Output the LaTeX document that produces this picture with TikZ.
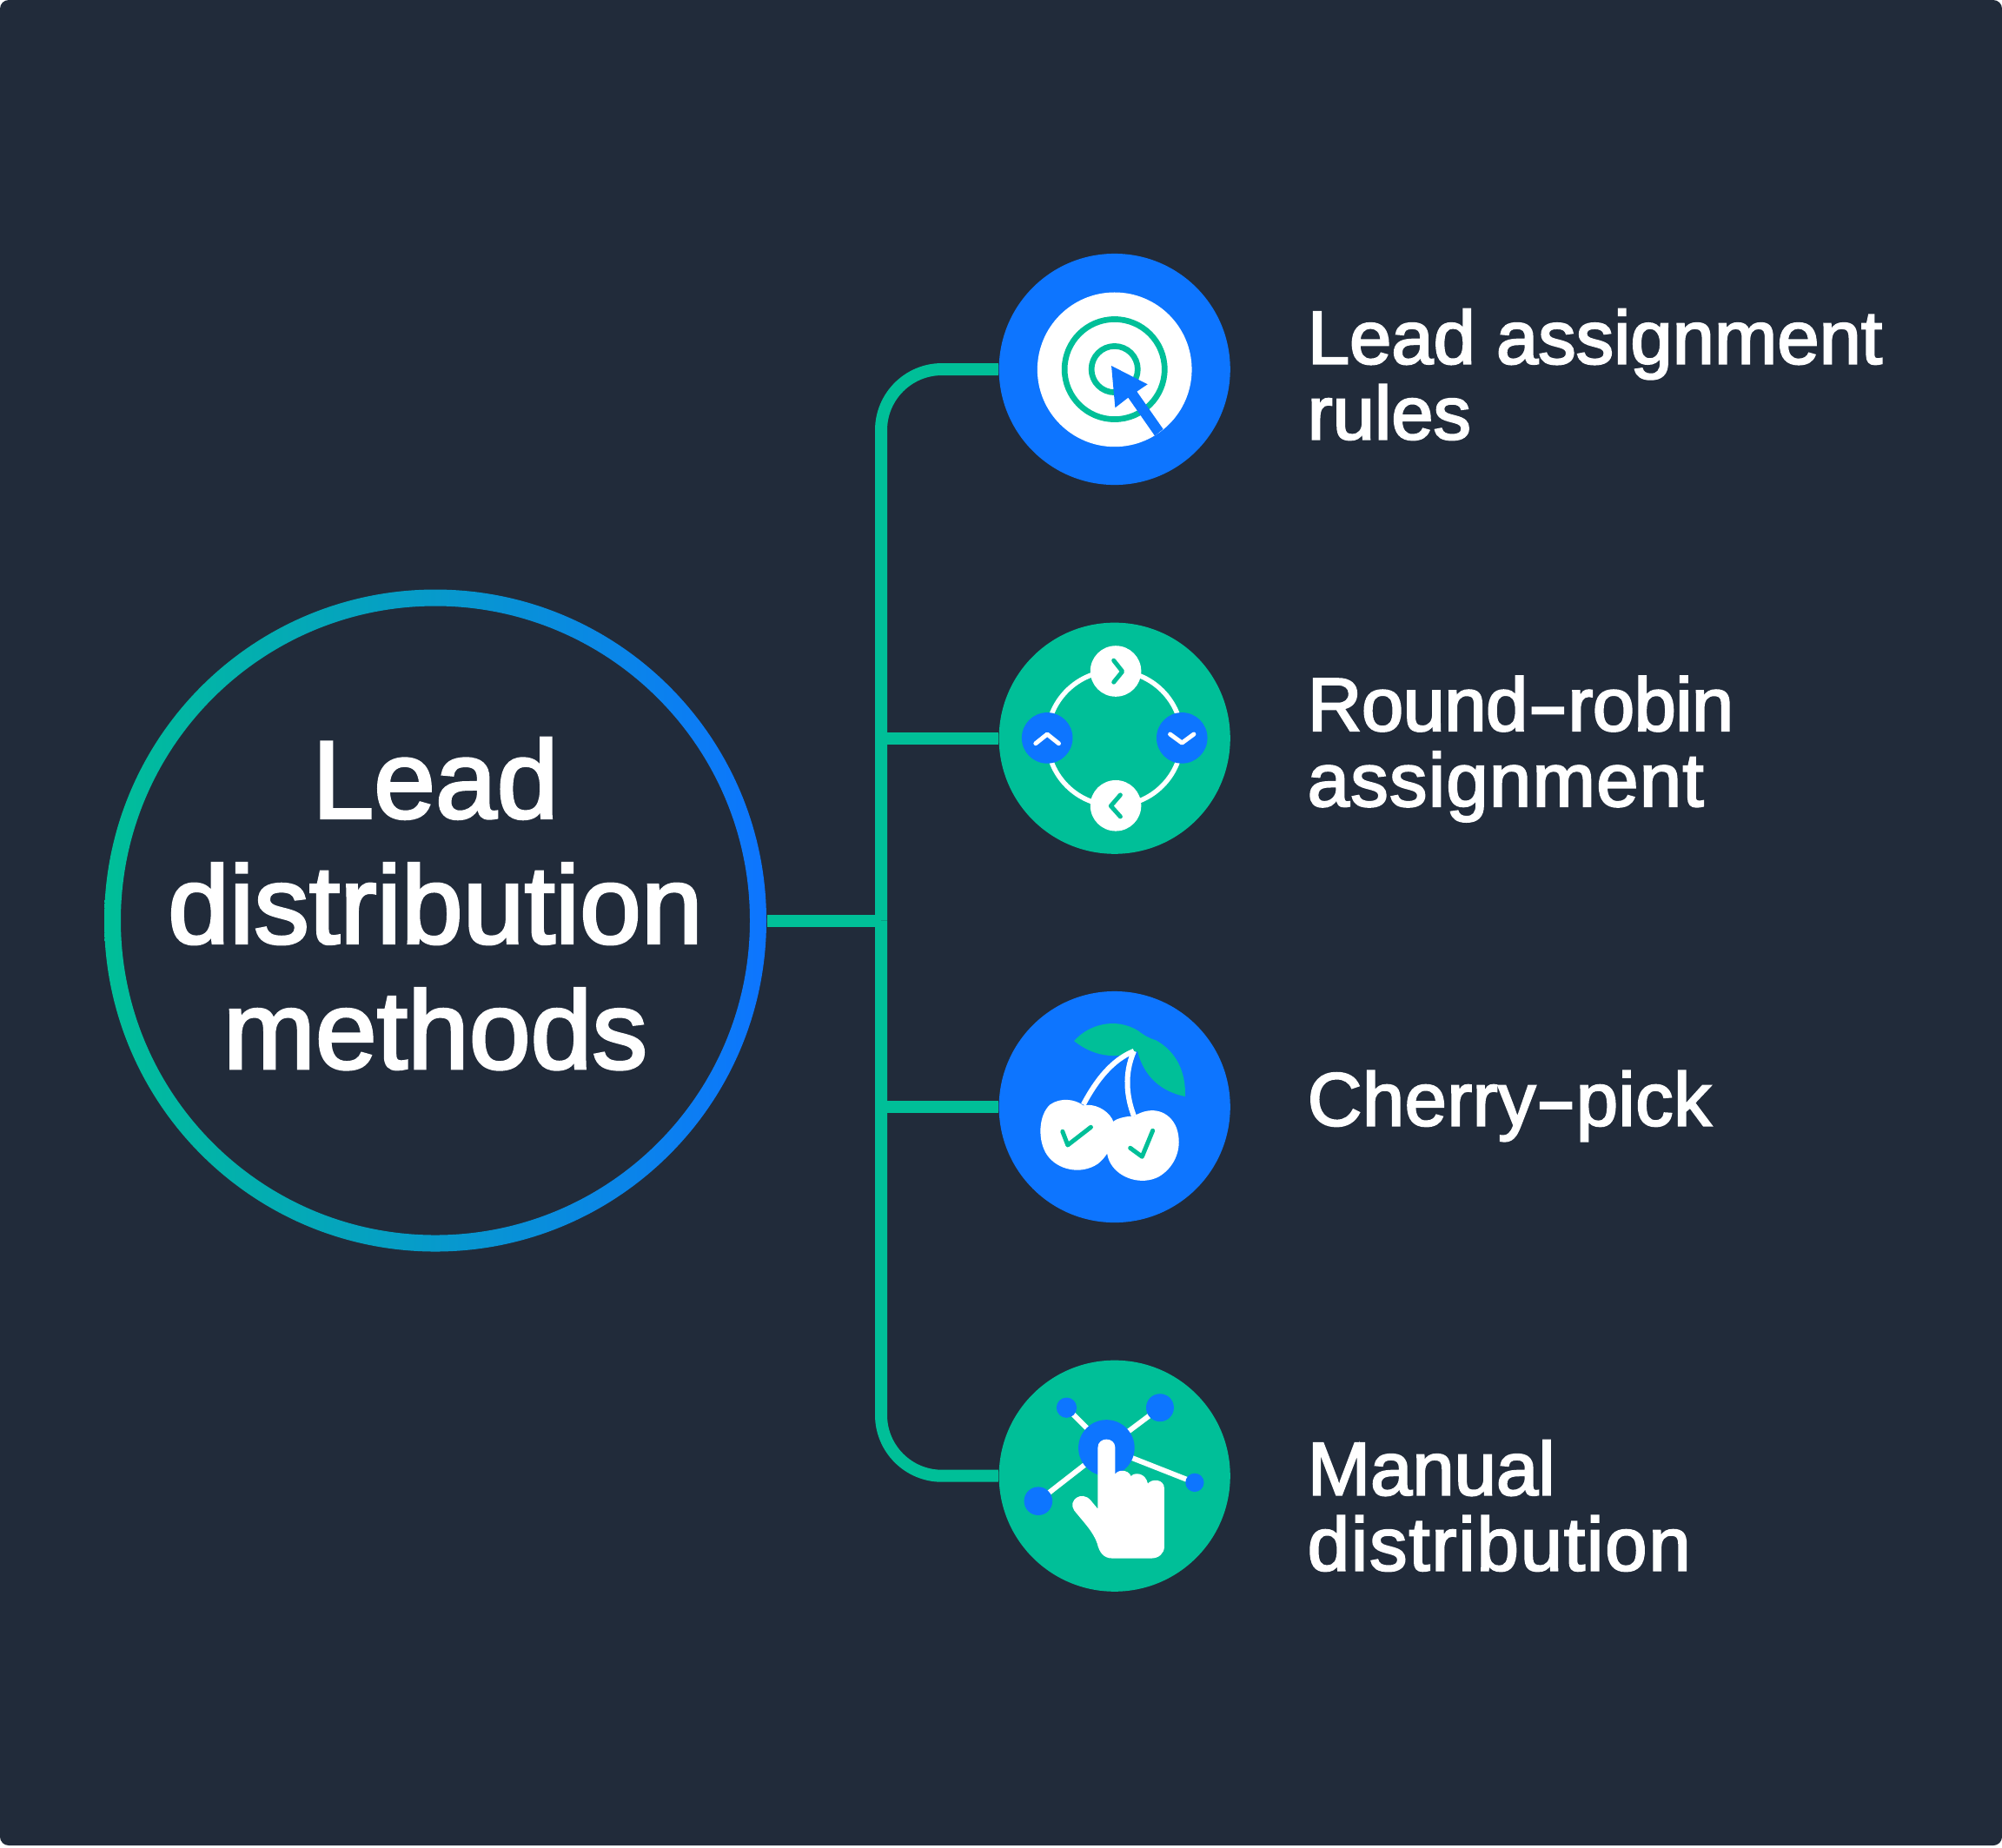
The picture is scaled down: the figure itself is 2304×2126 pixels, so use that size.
\documentclass[tikz,border=0pt]{standalone}
\usepackage{fontspec}
\usepackage{graphicx}
\setmainfont{Liberation Sans}[RawFeature={embolden=2.5}]
\definecolor{fond}{HTML}{212B3A}
\definecolor{vert}{HTML}{00BF98}
\definecolor{bleu}{HTML}{0D75FF}
\newcommand{\tiret}{\scalebox{1.6}[1]{-}}

\begin{document}
\begin{tikzpicture}[x=0.01cm, y=-0.01cm]
\tikzset{pastille/.style={circle, minimum size=2.66cm, inner sep=0pt},
  hubnoeud/.style={circle, minimum size=7.62cm, inner sep=0pt, text=white, align=center,
    text depth=0.40cm, font=\fontsize{36.2}{41}\selectfont},
  textnoeud/.style={anchor=west, inner sep=0pt, text=white, align=left,
    font=\fontsize{24.7}{24.7}\selectfont},
  lien/.style={draw=vert, line width=0.14cm},
  zoomed/.style={x=0.00333cm, y=-0.00333cm},
  chevron/.style={line width=0.05cm, line cap=round, line join=round}}
\fill[white] (0, 0) rectangle (2304, 2126);
\fill[fond, rounded corners=0.1cm] (0, 0) rectangle (2304, 2124);

\node[hubnoeud] (H) at (501, 1059.5) {Lead\\distribution\\methods};
\node[pastille, fill=bleu] (I1) at (1282.7, 425) {};
\node[pastille, fill=vert] (I2) at (1282.7, 849.7) {};
\node[pastille, fill=bleu] (I3) at (1282.7, 1274) {};
\node[pastille, fill=vert] (I4) at (1282.7, 1698.7) {};
\node[textnoeud] (T1) at (1504, 431) {Lead assignment\\rules};
\node[textnoeud] (T2) at (1504, 862) {{\addfontfeature{LetterSpace=-0.7}Round\tiret robin}\\{\addfontfeature{LetterSpace=1.5}assignment}};
\node[textnoeud] (T3) at (1504, 1273) {{\addfontfeature{LetterSpace=0.5}Cherry\tiret pick}};
\node[textnoeud] (T4) at (1504, 1733) {Manual\\{\addfontfeature{LetterSpace=2.2}distribution}};
\coordinate (J) at (1014, 1059.5);

\shade[left color=vert, right color=bleu, even odd rule] (H.center) circle (381) (H.center) circle (362);
\draw[lien] (H) -- (J);
\draw[lien, rounded corners=0.7cm] (J) |- (I1);
\draw[lien, rounded corners=0.7cm] (J) |- (I4);
\draw[lien] (J |- I2) -- (I2);
\draw[lien] (J |- I3) -- (I3);

\begin{scope}[shift={(I1)}, zoomed, shift={(-458, -435)}]
\fill[white] (458, 436) circle (267);
\draw[vert, line width=0.067cm] (458, 435) circle (173);
\draw[vert, line width=0.067cm] (458, 435) circle (80);
\fill[bleu] (447, 423) -- (572, 487) -- (535, 512) -- (626, 642) -- (597, 665) -- (505, 533) -- (460, 568) -- cycle;
\end{scope}

\begin{scope}[shift={(I2)}, zoomed, shift={(-458, -434)}]
\draw[white, line width=0.055cm] (458, 434) circle (233);
\fill[white] (462, 202) circle (88);
\fill[white] (462, 667) circle (88);
\fill[bleu] (225, 433) circle (88);
\fill[bleu] (691, 433) circle (88);
\draw[vert, chevron] (455, 165) -- (485, 203) -- (455, 240);
\draw[vert, chevron] (478, 630) -- (445, 668) -- (478, 705);
\draw[white, chevron] (185, 452) -- (225, 420) -- (265, 452);
\draw[white, chevron] (650, 420) -- (691, 450) -- (732, 420);
\end{scope}

\begin{scope}[shift={(I3)}, zoomed, shift={(-458, -433)}]
\fill[vert] (318, 205) .. controls (365, 150) and (460, 120) .. (540, 170)
  .. controls (560, 185) and (575, 195) .. (600, 202)
  .. controls (670, 240) and (705, 310) .. (702, 397)
  .. controls (620, 380) and (560, 330) .. (537, 240)
  .. controls (480, 262) and (400, 270) .. (318, 205) -- cycle;
\draw[white, line width=0.06cm] (525, 240) .. controls (450, 270) and (395, 340) .. (350, 425);
\draw[white, line width=0.06cm] (525, 240) .. controls (490, 320) and (500, 400) .. (525, 465);
\fill[white] (350, 428) .. controls (320, 405) and (270, 400) .. (235, 425)
  .. controls (195, 460) and (190, 550) .. (225, 600)
  .. controls (260, 650) and (340, 670) .. (400, 630)
  .. controls (450, 590) and (470, 520) .. (450, 475)
  .. controls (430, 440) and (385, 420) .. (350, 428) -- cycle;
\fill[white] (525, 465) .. controls (490, 465) and (465, 475) .. (455, 482)
  .. controls (430, 520) and (420, 590) .. (445, 630)
  .. controls (475, 680) and (550, 705) .. (610, 675)
  .. controls (670, 640) and (695, 570) .. (672, 505)
  .. controls (650, 450) and (590, 425) .. (525, 465) -- cycle;
\draw[vert, chevron] (278, 518) -- (296, 565) -- (376, 503);
\draw[vert, chevron] (512, 575) -- (553, 605) -- (590, 515);
\end{scope}

\begin{scope}[shift={(I4)}, zoomed, shift={(-458, -431)}]
\draw[white, line width=0.06cm] (292, 195) -- (430, 334);
\draw[white, line width=0.06cm] (615, 195) -- (430, 334);
\draw[white, line width=0.06cm] (194, 518) -- (430, 334);
\draw[white, line width=0.06cm] (735, 454) -- (430, 334);
\fill[bleu] (292, 195) circle (35);
\fill[bleu] (615, 195) circle (48);
\fill[bleu] (194, 518) circle (49);
\fill[bleu] (735, 454) circle (32);
\fill[bleu] (430, 334) circle (97);
\fill[white] (400, 545) -- (400, 333) .. controls (400, 295) and (460, 295) .. (460, 333) -- (460, 425)
  .. controls (470, 408) and (505, 408) .. (515, 432)
  .. controls (525, 418) and (565, 418) .. (573, 458)
  .. controls (585, 440) and (630, 440) .. (630, 475) -- (630, 675)
  .. controls (630, 700) and (610, 716) .. (585, 716) -- (450, 716)
  .. controls (420, 716) and (405, 695) .. (398, 665)
  .. controls (385, 625) and (350, 590) .. (318, 550)
  .. controls (295, 515) and (345, 480) .. (375, 515) -- cycle;
\end{scope}
\end{tikzpicture}
\end{document}
